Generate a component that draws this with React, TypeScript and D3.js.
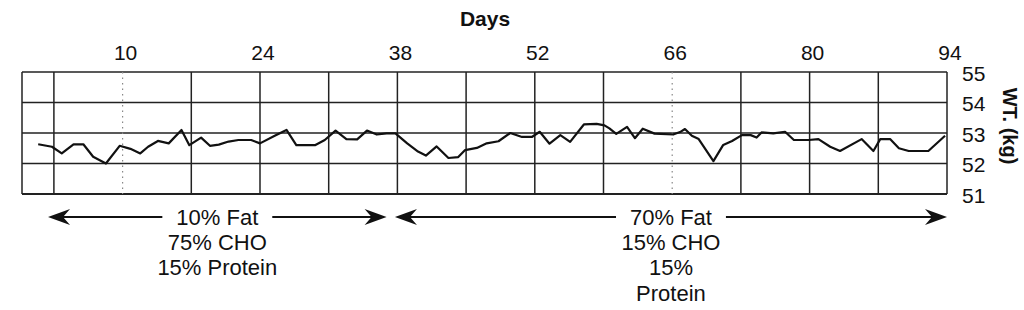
import React from 'react';
import * as d3 from 'd3';

// ---- data ----
const dayTicks = [10, 24, 38, 52, 66, 80, 94];
const gridDays = [3, 10, 17, 24, 31, 38, 45, 52, 59, 66, 73, 80, 87, 94];
const dottedDays = [10, 66];
const weightTicks = [55, 54, 53, 52, 51];

const days = [
  1.4, 2.8, 3.8, 5.0, 6.0, 7.0, 8.3, 9.7, 10.8, 11.8, 12.6, 13.6, 14.7, 16.0, 16.8,
  18.0, 18.9, 19.8, 20.8, 21.8, 23.1, 24.0, 25.5, 26.7, 27.7, 29.6, 30.6, 31.7, 32.8,
  33.9, 34.9, 35.9, 36.9, 37.8, 39.0, 40.1, 40.9, 42.0, 43.2, 44.2, 44.9, 46.1, 47.1,
  48.3, 49.5, 50.7, 51.7, 52.5, 53.5, 54.6, 55.6, 57.0, 58.3, 59.1, 59.6, 60.3, 61.4,
  62.2, 63.0, 64.2, 66.1, 66.8, 67.3, 68.0, 68.7, 70.2, 71.2, 72.1, 73.1, 74.0, 74.6,
  75.1, 76.3, 77.5, 78.4, 79.9, 80.9, 82.1, 83.1, 85.3, 86.5, 87.2, 88.2, 89.1, 90.1,
  92.1, 93.8,
];
const weights = [
  52.63, 52.55, 52.33, 52.63, 52.63, 52.22, 52.0, 52.58, 52.48, 52.33, 52.55, 52.74, 52.66, 53.1, 52.6,
  52.85, 52.58, 52.62, 52.72, 52.77, 52.77, 52.66, 52.91, 53.1, 52.6, 52.6, 52.77, 53.08, 52.8,
  52.79, 53.08, 52.95, 52.99, 52.99, 52.66, 52.39, 52.26, 52.56, 52.18, 52.21, 52.44, 52.51, 52.66,
  52.73, 53.0, 52.87, 52.87, 53.04, 52.65, 52.93, 52.71, 53.28, 53.3, 53.25, 53.15, 52.97, 53.2,
  52.83, 53.14, 52.98, 52.95, 53.03, 53.13, 52.91, 52.8, 52.08, 52.61, 52.74, 52.93, 52.93, 52.85,
  53.02, 52.99, 53.04, 52.77, 52.77, 52.8, 52.55, 52.41, 52.8, 52.41, 52.8, 52.8, 52.5, 52.41,
  52.41, 52.91,
];

const phaseStarts = [2.4, 37.75];
const phaseEnds = [36.9, 94];
const phaseLabels = [
  ['10% Fat', '75% CHO', '15% Protein'],
  ['70% Fat', '15% CHO', '15%', 'Protein'],
];

const FONT = "'Liberation Sans', Arial, Helvetica, sans-serif";

function measure(text: string, font: string): number {
  const c = document.createElement('canvas').getContext('2d');
  if (!c) return text.length * 11;
  c.font = font;
  return c.measureText(text).width;
}

export default function App() {
  const W = 1024;
  const H = 310;
  const x = d3.scaleLinear().domain([-0.25, 94]).range([22, 947]);
  const y = d3.scaleLinear().domain([51, 55]).range([194, 72]);
  const pts: [number, number][] = days.map((d, i) => [d, weights[i]]);
  const line = d3
    .line<[number, number]>()
    .x((d) => x(d[0]))
    .y((d) => y(d[1]));

  const arrowY = 217;
  const head = (tipX: number, dir: number) => {
    const L = 22, h = 8, n = 15;
    return `M${tipX},${arrowY} L${tipX + dir * L},${arrowY - h} L${tipX + dir * n},${arrowY} L${tipX + dir * L},${arrowY + h} Z`;
  };

  return (
    <svg width={W} height={H} style={{ position: 'absolute', left: 0, top: 0, background: '#fff' }} fontFamily={FONT}>
      {/* horizontal grid */}
      {weightTicks.map((w) => (
        <line key={'h' + w} x1={x(-0.25)} x2={x(94)} y1={y(w)} y2={y(w)} stroke="#222" strokeWidth={w === 51 ? 2 : 1.5} />
      ))}
      {/* vertical grid */}
      {gridDays.map((d) =>
        dottedDays.includes(d) ? (
          <line key={'v' + d} x1={x(d)} x2={x(d)} y1={y(55)} y2={y(51)} stroke="#888" strokeWidth={1.2} strokeDasharray="1.5,4" />
        ) : (
          <line key={'v' + d} x1={x(d)} x2={x(d)} y1={y(55)} y2={y(51)} stroke="#222" strokeWidth={1.5} />
        )
      )}
      <line x1={x(-0.25)} x2={x(-0.25)} y1={y(55)} y2={y(51)} stroke="#222" strokeWidth={1.5} />

      {/* data line */}
      <path d={line(pts) || ''} fill="none" stroke="#111" strokeWidth={2.2} strokeLinejoin="round" />

      {/* top axis labels */}
      <text x={485} y={26} textAnchor="middle" fontSize={21} fontWeight="bold" fill="#111">Days</text>
      {dayTicks.map((d) => (
        <text key={'t' + d} x={x(d) + 3} y={60} textAnchor="middle" fontSize={21} fill="#111">{d}</text>
      ))}

      {/* right axis labels */}
      {weightTicks.map((w) => (
        <text key={'w' + w} x={962} y={y(w) + 1.5} dy="0.35em" fontSize={21} fill="#111">{w}</text>
      ))}
      <text transform={`translate(1003,126) rotate(90)`} textAnchor="middle" fontSize={20} fontWeight="bold" fill="#111">WT. (kg)</text>

      {/* diet phases */}
      {phaseLabels.map((lines, i) => {
        const x0 = x(phaseStarts[i]);
        const x1 = x(phaseEnds[i]);
        const cx = (x0 + x1) / 2;
        const half = measure(lines[0], `22px ${FONT}`) / 2 + 14;
        return (
          <g key={'p' + i}>
            <line x1={x0 + 10} x2={cx - half} y1={arrowY} y2={arrowY} stroke="#111" strokeWidth={2} />
            <line x1={cx + half} x2={x1 - 10} y1={arrowY} y2={arrowY} stroke="#111" strokeWidth={2} />
            <path d={head(x0, 1)} fill="#111" />
            <path d={head(x1, -1)} fill="#111" />
            {lines.map((t, j) => (
              <text key={j} x={cx} y={225 + j * 25.2} textAnchor="middle" fontSize={22} fill="#111">{t}</text>
            ))}
          </g>
        );
      })}
    </svg>
  );
}
